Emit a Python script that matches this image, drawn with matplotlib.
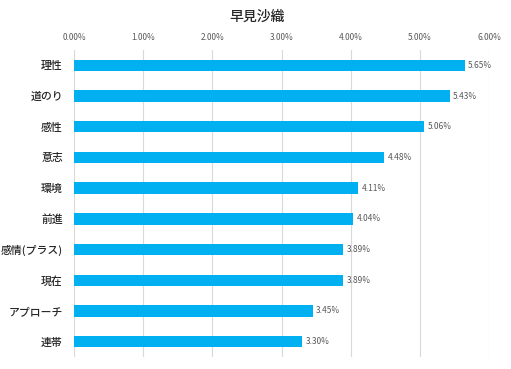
import matplotlib
matplotlib.use("Agg")
import matplotlib.pyplot as plt
from matplotlib.ticker import FuncFormatter

plt.rcParams['font.family'] = ['Noto Sans CJK JP', 'DejaVu Sans']

title = "早見沙織"
categories = ["理性", "道のり", "感性", "意志", "環境", "前進", "感情(プラス)", "現在", "アプローチ", "連帯"]
values = [5.65, 5.43, 5.06, 4.48, 4.11, 4.04, 3.89, 3.89, 3.45, 3.30]
xticks = [0, 1, 2, 3, 4, 5, 6]

fig = plt.figure(figsize=(5.11, 3.69), dpi=100)
ax = fig.add_axes([74/511, 1-357/369, (489-74)/511, (357-50)/369])

y = list(range(len(categories)))
ax.barh(y, values, height=0.37, color="#00B0F0", zorder=3)
ax.set_ylim(len(categories)-0.5, -0.5)
ax.set_xlim(0, 6)
ax.set_xticks(xticks)
ax.xaxis.set_major_formatter(FuncFormatter(lambda v, p: f"{v:.2f}%"))
ax.xaxis.tick_top()
ax.tick_params(axis='x', length=0, labelsize=6, labelcolor="#595959", pad=6)
ax.set_yticks(y)
ax.set_yticklabels(categories, fontweight='medium')
ax.tick_params(axis='y', length=0, labelsize=7.8, labelcolor="#262626", pad=8)
ax.grid(axis='x', color="#d9d9d9", linewidth=0.8, zorder=0)
for s in ax.spines.values():
    s.set_visible(False)

for yi, v in zip(y, values):
    ax.text(v + 0.05, yi, f"{v:.2f}%", va='center', ha='left', fontsize=6, color="#595959")

fig.text(257/511, 1-17/369, title, ha='center', va='center', fontsize=10,
         fontweight='medium', color="#262626")

fig.savefig("out.png", dpi=100)
